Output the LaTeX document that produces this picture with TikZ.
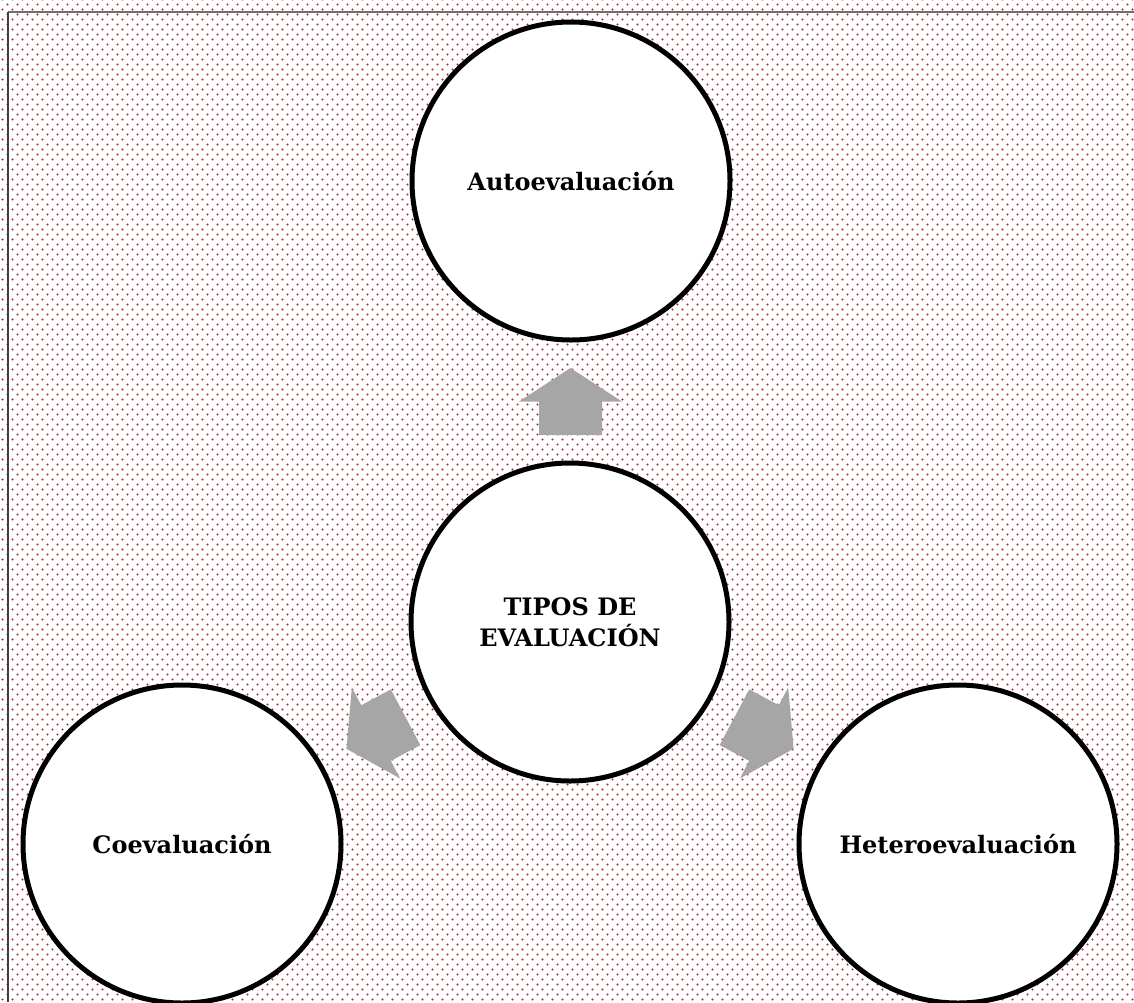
\documentclass[tikz,border=0pt]{standalone}
\usepackage{fontspec}
\setmainfont{DejaVu Serif}
\usetikzlibrary{patterns,calc}
\pgfdeclarepatternformonly{mydots}{\pgfqpoint{-1pt}{-1pt}}{\pgfqpoint{11pt}{11pt}}{\pgfqpoint{10pt}{10pt}}{%
  \pgfpathcircle{\pgfqpoint{2.5pt}{2.5pt}}{1.1pt}%
  \pgfpathcircle{\pgfqpoint{7.5pt}{7.5pt}}{1.1pt}%
  \pgfusepath{fill}}
\definecolor{dotred}{RGB}{165,45,55}
\definecolor{arrowgrey}{RGB}{166,166,166}
\definecolor{framegrey}{RGB}{110,110,110}
\tikzset{
  bubble/.style={circle, draw=black, line width=5pt, fill=white, minimum size=318pt, inner sep=0pt,
    font=\fontsize{24}{31}\selectfont\bfseries, align=center, text=black},
  blockarrow/.pic={\fill[arrowgrey] (33.5,0) -- (0,51.5) -- (0,31.5) -- (-33.5,31.5) -- (-33.5,-31.5) -- (0,-31.5) -- (0,-51.5) -- cycle;}
}
\begin{document}
\begin{tikzpicture}[x=1pt,y=-1pt]
  \useasboundingbox (0,0) rectangle (1134,1002);
  \fill[white] (0,0) rectangle (1134,1002);
  \fill[pattern=mydots, pattern color=dotred] (0,0) rectangle (1134,1002);
  \draw[framegrey, line width=2.5pt] (8,12) -- (1134,12);
  \draw[black!75, line width=1.5pt] (8,12) -- (8,1002);

  \node[bubble] (auto) at (571,181) {Autoevaluación};
  \node[bubble] (tipos) at (570,622) {TIPOS DE\\EVALUACIÓN};
  \node[bubble] (co) at (182,844) {Coevaluación};
  \node[bubble] (hetero) at (958,844) {Heteroevaluación};

  \pic[rotate=90] at ($(tipos)!0.5!(auto)$) {blockarrow};
  \pic[rotate=208] at ($(tipos)!0.5!(co)$) {blockarrow};
  \pic[rotate=332] at ($(tipos)!0.5!(hetero)$) {blockarrow};
\end{tikzpicture}
\end{document}
